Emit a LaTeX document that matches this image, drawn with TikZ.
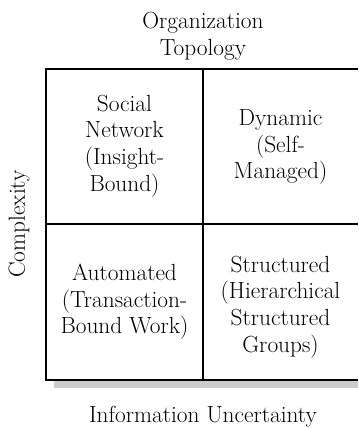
\documentclass[tikz,border=0pt]{standalone}
\usepackage{tikz}

\tikzset{
  cell/.style={align=center, font=\fontsize{17.5}{20}\selectfont},
  axis label/.style={align=center, font=\fontsize{17.5}{20.5}\selectfont},
}

\begin{document}
\begin{tikzpicture}[x=0.75pt,y=0.75pt]
  \useasboundingbox (0,0) rectangle (358,428);

  % Define the corners and the centre of the grid
  \coordinate (SW) at (46,48);
  \coordinate (NE) at (358,359);
  \coordinate (M) at (203,204);

  % Shadow under the grid
  \fill[black!20] (54,40) rectangle (358,48);

  % Draw the grid
  \draw[line width=1.2pt] (NE) -- (SW |- NE) -- (SW) -- (NE |- SW);
  \draw[line width=0.9pt] (M |- SW) -- (M |- NE);
  \draw[line width=0.9pt] (SW |- M) -- (NE |- M);

  % Label the quadrants
  \node[cell] (social) at (124.5,282) {Social\\Network\\(Insight-\\Bound)};
  \node[cell] (dynamic) at (280.5,281) {Dynamic\\(Self-\\Managed)};
  \node[cell] (automated) at (124.5,126) {Automated\\(Transaction-\\Bound Work)};
  \node[cell] (structured) at (280.5,121) {Structured\\(Hierarchical\\Structured\\Groups)};

  % Label the axes
  \node[axis label] (topology) at (203,392) {Organization\\Topology};
  \node[axis label, rotate=90] (complexity) at (19,204) {Complexity};
  \node[axis label] (uncertainty) at (203,11) {Information Uncertainty};
\end{tikzpicture}
\end{document}
